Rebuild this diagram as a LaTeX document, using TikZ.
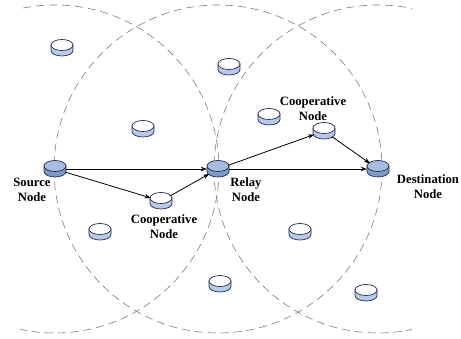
\documentclass[tikz,border=0pt]{standalone}
\usepackage{fontspec}
\setmainfont{Liberation Serif}
\usetikzlibrary{shapes.geometric,arrows.meta}

\definecolor{rangegray}{HTML}{7A7A7A}
\definecolor{diskedge}{HTML}{1E2D4C}
\definecolor{diskblue}{HTML}{A7BBE3}
\definecolor{diskband}{HTML}{7F99CB}
\definecolor{bandlight}{HTML}{B9C9EA}

\newcommand\netdisk[4]{%
    \node[diskspot] (#1) at (#2) {};
    \begin{scope}[shift={(#2)}]
        \filldraw[diskline, fill=#4] (-11,-3) -- (-11,2.5) arc[start angle=180, end angle=0, x radius=11, y radius=5.5] -- (11,-3) -- cycle;
        \filldraw[diskline, fill=#3] (0,-3) ellipse[x radius=11, y radius=5.5];
    \end{scope}
}

\begin{document}
\begin{tikzpicture}[x=1pt,y=-1pt,
    diskspot/.style={ellipse, minimum width=22pt, minimum height=16pt, inner sep=0pt},
    diskline/.style={draw=diskedge, line width=0.7pt},
    coverage/.style={draw=rangegray, line width=0.6pt, dash pattern=on 8pt off 5pt},
    link/.style={draw, line width=0.8pt, -{Stealth[length=6pt,width=4.5pt]}},
    tag/.style={font=\fontsize{12.7}{15}\selectfont\bfseries, align=center, inner sep=0pt}]

    \useasboundingbox (0,0) rectangle (461,339);

    \begin{scope}
        \clip (20,0) rectangle (412,339);
        \draw[coverage] (55,169) circle (164);
        \draw[coverage] (218,169) circle (164);
        \draw[coverage] (378,169) circle (164);
    \end{scope}

    \netdisk{src}{55,169}{diskblue}{diskband}
    \netdisk{rly}{218,169}{diskblue}{diskband}
    \netdisk{dst}{378,169}{diskblue}{diskband}
    \netdisk{coopa}{161,201}{white}{bandlight}
    \netdisk{coopb}{324,131}{white}{bandlight}

    \netdisk{ida}{62,48}{white}{bandlight}
    \netdisk{idb}{229,67}{white}{bandlight}
    \netdisk{idc}{143,129}{white}{bandlight}
    \netdisk{idd}{269,117}{white}{bandlight}
    \netdisk{ide}{100,232}{white}{bandlight}
    \netdisk{idf}{300,232}{white}{bandlight}
    \netdisk{idg}{220,284}{white}{bandlight}
    \netdisk{idh}{366,293}{white}{bandlight}

    \node[tag] (srclbl) at (32,190) {Source\\Node};
    \node[tag] (rlylbl) at (246,190) {Relay\\Node};
    \node[tag] (dstlbl) at (428,187) {Destination\\Node};
    \node[tag] (coopalbl) at (164,227) {Cooperative\\Node};
    \node[tag] (coopblbl) at (313,109) {Cooperative\\Node};

    \draw[link] (src) -- (rly);
    \draw[link] (src) -- (coopa);
    \draw[link] (coopa) -- (rly);
    \draw[link] (rly) -- (coopb);
    \draw[link] (rly) -- (dst);
    \draw[link] (coopb) -- (dst);
\end{tikzpicture}
\end{document}
